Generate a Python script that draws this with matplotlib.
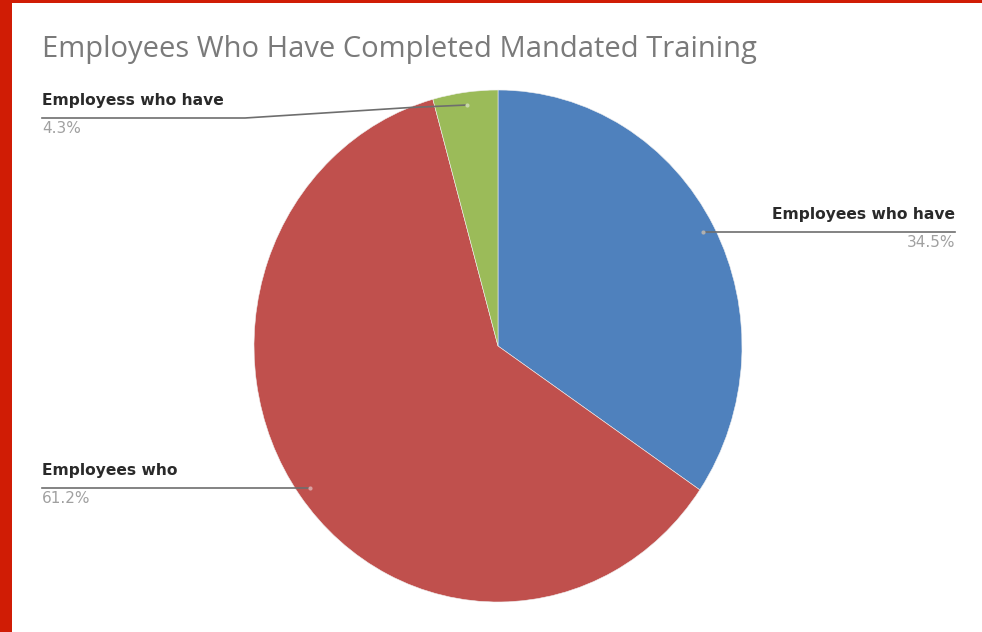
import numpy as np
import matplotlib
matplotlib.use("Agg")
import matplotlib.pyplot as plt
from matplotlib.patches import Rectangle

# ---- data ----
title = "Employees Who Have Completed Mandated Training"
labels = ["Employees who have", "Employees who", "Employess who have"]
values = [34.5, 61.2, 4.3]
pct_labels = ["34.5%", "61.2%", "4.3%"]
colors = ["#4f81bd", "#c0504d", "#9bbb59"]

W, H = 982, 632
fig = plt.figure(figsize=(W / 100, H / 100), dpi=100)
fig.patch.set_facecolor("#d01c05")
fig.patches.append(Rectangle((12 / W, 0), 1 - 12 / W, (H - 3) / H,
                             transform=fig.transFigure, facecolor="white",
                             edgecolor="none", zorder=-10))

# pie geometry (pixels, y down)
cx, cy, rx, ry = 498, 346, 244, 256
ax = fig.add_axes([(cx - rx) / W, (H - cy - ry) / H, 2 * rx / W, 2 * ry / H])
ax.set_facecolor("none")
wedges, _ = ax.pie(values, colors=colors, startangle=90, counterclock=False,
                   radius=1.0, wedgeprops=dict(edgecolor="#f0f0f0", linewidth=0.4))
ax.set_aspect("auto")
ax.set_xlim(-1, 1)
ax.set_ylim(-1, 1)
ax.axis("off")

# overlay axes in pixel coords
ov = fig.add_axes([0, 0, 1, 1], facecolor="none")
ov.set_xlim(0, W)
ov.set_ylim(H, 0)
ov.axis("off")

fig.text(42 / W, 1 - 50 / H, title, fontsize=21, color="#7a7a7a",
         family="Open Sans", va="center", ha="left")

dots = []
for w in wedges:
    th = np.deg2rad((w.theta1 + w.theta2) / 2)
    dots.append((cx + 0.95 * rx * np.cos(th), cy - 0.95 * ry * np.sin(th)))

lab_font = dict(family="DejaVu Sans", fontsize=11.2, color="#2a2a2a", weight="bold")
pct_font = dict(family="DejaVu Sans", fontsize=11, color="#a0a0a0")
line_kw = dict(color="#6e6e6e", lw=1.2)

# blue (right)
d = dots[0]
ov.plot([d[0], 955], [d[1], d[1]], **line_kw)
ov.plot(*d, marker="o", ms=3, color="#b0b0b0", mec="none")
ov.text(955, d[1] - 10, labels[0], ha="right", va="bottom", **lab_font)
ov.text(955, d[1] + 3, pct_labels[0], ha="right", va="top", **pct_font)

# red (left bottom)
d = dots[1]
ov.plot([d[0], 42], [d[1], d[1]], **line_kw)
ov.plot(*d, marker="o", ms=3, color="#d8a0a0", mec="none")
ov.text(42, d[1] - 10, labels[1], ha="left", va="bottom", **lab_font)
ov.text(42, d[1] + 3, pct_labels[1], ha="left", va="top", **pct_font)

# green (left top)
d = dots[2]
ly = 118
ov.plot([d[0], 410, 245, 42], [d[1], d[1] + 2.5, ly, ly], **line_kw)
ov.plot(*d, marker="o", ms=3, color="#c8d8a8", mec="none")
ov.text(42, ly - 10, labels[2], ha="left", va="bottom", **lab_font)
ov.text(42, ly + 3, pct_labels[2], ha="left", va="top", **pct_font)

fig.savefig("out.png", dpi=100, facecolor=fig.get_facecolor())
